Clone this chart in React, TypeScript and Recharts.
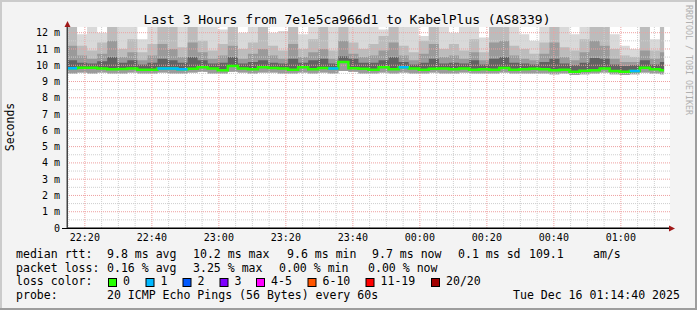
import React from 'react';
import { ComposedChart, Area, Line, XAxis, YAxis, CartesianGrid, ReferenceLine } from 'recharts';

// x values are minutes after 22:00; first sample 22:14:40, one column every 3 min
const START = 14 + 40 / 60;
const STEP = 3;
const LAST = 192.9;

const median = [
  9.82, 9.85, 9.85, 9.8, 9.75, 9.77, 9.8, 9.73, 9.72, 9.8,
  9.8, 9.75, 9.78, 9.88, 9.8, 9.7, 9.95, 9.8, 9.75, 9.87,
  9.83, 9.8, 9.73, 9.87, 9.75, 9.83, 9.8, 10.2, 9.82, 9.78,
  9.73, 9.88, 9.75, 9.88, 9.8, 9.73, 9.78, 9.8, 9.75, 9.8,
  9.72, 9.75, 9.73, 9.83, 9.73, 9.75, 9.78, 9.75, 9.69, 9.73,
  9.6, 9.66, 9.7, 9.8, 9.64, 9.6, 9.64, 9.85, 9.75, 9.7,
];
const low = [
  9.5, 9.55, 9.5, 9.55, 9.5, 9.5, 9.55, 9.5, 9.5, 9.55,
  9.5, 9.5, 9.55, 9.6, 9.5, 9.5, 9.6, 9.55, 9.5, 9.55,
  9.55, 9.5, 9.5, 9.55, 9.5, 9.55, 9.5, 9.65, 9.6, 9.5,
  9.5, 9.55, 9.5, 9.55, 9.5, 9.5, 9.55, 9.5, 9.5, 9.55,
  9.5, 9.5, 9.5, 9.55, 9.5, 9.5, 9.5, 9.5, 9.45, 9.5,
  9.4, 9.45, 9.5, 9.55, 9.45, 9.4, 9.45, 9.55, 9.5, 9.45,
];
const dark = [
  10.3, 10.15, 10.1, 10.25, 10.5, 10.15, 10.3, 10.05, 10.15, 10.4,
  10.3, 10.15, 10.5, 10.3, 10.1, 10.15, 10.5, 10.1, 10.2, 10.3,
  10.15, 10.1, 10.4, 10.15, 10.3, 10.4, 10.1, 10.55, 10.4, 10.15,
  10.15, 10.3, 10.5, 10.2, 10.05, 10.15, 10.4, 10.1, 10.15, 10.1,
  10.3, 10.05, 10.4, 10.5, 10.15, 10.1, 10.05, 10.2, 10.4, 10.1,
  10.0, 10.15, 10.45, 10.4, 10.05, 9.95, 10.0, 10.3, 10.05, 10.2,
];
const mid = [
  11.2, 10.6, 10.4, 10.7, 11.5, 10.5, 10.8, 10.3, 10.6, 11.3,
  11.0, 10.5, 11.4, 10.8, 10.4, 10.6, 11.2, 10.4, 10.7, 11.0,
  10.6, 10.4, 11.3, 10.5, 10.8, 11.0, 10.4, 11.5, 10.7, 10.5,
  10.6, 10.9, 11.4, 10.6, 10.3, 10.7, 11.3, 10.5, 10.6, 10.4,
  10.8, 10.3, 11.4, 11.5, 10.6, 10.4, 10.3, 10.7, 11.4, 10.5,
  10.3, 10.8, 11.5, 11.2, 10.4, 10.2, 10.2, 10.9, 10.4, 10.8,
];
const light = [
  12.35, 11.2, 10.9, 11.4, 12.35, 11.0, 11.6, 10.8, 11.3, 12.35,
  12.35, 11.1, 12.35, 11.5, 10.9, 11.3, 12.35, 11.0, 11.4, 12.35,
  11.2, 10.9, 12.35, 11.0, 11.6, 12.35, 10.9, 12.35, 11.4, 11.0,
  11.3, 11.8, 12.35, 11.2, 10.8, 11.5, 12.35, 11.0, 11.3, 10.9,
  11.6, 10.8, 12.35, 12.35, 11.2, 11.0, 10.7, 11.4, 12.35, 11.1,
  10.9, 11.6, 12.35, 12.35, 11.0, 10.6, 10.5, 12.35, 10.9, 12.35,
];
const top = [
  12.35, 11.9, 12.35, 12.0, 12.35, 12.35, 12.35, 11.6, 12.35, 12.35,
  12.35, 12.35, 12.35, 12.35, 12.35, 12.2, 12.35, 12.0, 12.35, 12.35,
  12.0, 12.1, 12.35, 11.9, 12.35, 12.1, 12.35, 12.35, 12.35, 12.35,
  12.35, 12.2, 12.35, 12.35, 12.35, 11.8, 12.35, 12.35, 12.0, 12.35,
  12.35, 11.7, 12.35, 12.35, 12.35, 11.9, 11.5, 12.35, 12.35, 12.35,
  11.9, 12.35, 12.35, 12.35, 11.9, 11.2, 11.0, 12.35, 11.6, 12.35,
];
const loss = [
  1, 0, 0, 0, 0, 0, 0, 0, 0, 1,
  0, 1, 0, 0, 0, 0, 0, 0, 0, 0,
  0, 0, 0, 0, 0, 0, 1, 0, 0, 0,
  0, 0, 0, 1, 0, 0, 0, 0, 0, 0,
  0, 0, 0, 0, 0, 0, 0, 0, 0, 0,
  0, 0, 0, 0, 0, 0, 1, 0, 0, 0,
];

const xMajor = [20, 40, 60, 80, 100, 120, 140, 160, 180];
const xMinor = [15, 25, 30, 35, 45, 50, 55, 65, 70, 75, 85, 90, 95, 105, 110, 115, 125, 130, 135, 145, 150, 155, 165, 170, 175, 185, 190];
const yMajor = [0, 1, 2, 3, 4, 5, 6, 7, 8, 9, 10, 11, 12];
const yMinor = [0.5, 1.5, 2.5, 3.5, 4.5, 5.5, 6.5, 7.5, 8.5, 9.5, 10.5, 11.5];

const rttStats = ['9.8 ms avg', '10.2 ms max', '9.6 ms min', '9.7 ms now', '0.1 ms sd', '109.1', 'am/s'];
const lossStats = ['0.16 % avg', '3.25 % max', '0.00 % min', '0.00 % now'];
const lossLabels = ['0', '1', '2', '3', '4-5', '6-10', '11-19', '20/20'];
const lossColors = ['#26ff00', '#00b8ff', '#0059ff', '#7e00ff', '#ff00ff', '#ff5500', '#ff0000', '#a10000'];

const MONO = '"DejaVu Sans Mono", monospace';

const rows: any[] = median.map((m, i) => ({
  t: START + i * STEP,
  s1: [low[i], top[i]],
  s2: [low[i], light[i]],
  s3: [low[i], mid[i]],
  s4: [m, dark[i]],
  med: m,
  lossMed: loss[i] > 0 ? m : i > 0 && loss[i - 1] > 0 ? median[i - 1] : null,
}));
const lastRow = rows[rows.length - 1];
rows.push({ ...lastRow, t: LAST, lossMed: loss[loss.length - 1] > 0 ? lastRow.med : null });

const fmtTime = (m: number) => {
  const total = (22 * 60 + m) % 1440;
  const h = Math.floor(total / 60);
  const mm = total % 60;
  return `${String(h).padStart(2, '0')}:${String(mm).padStart(2, '0')}`;
};

export default function App() {
  const rttX = [107, 193, 287, 372, 458, 529, 593];
  const lossX = [107, 193, 279, 368];
  const boxX = [108, 145.5, 182.5, 219.5, 256, 307.5, 365.5, 431];
  return (
    <div style={{ position: 'absolute', left: 0, top: 0, width: 697, height: 310, background: '#f3f3f3', fontFamily: MONO }}>
      <ComposedChart width={697} height={310} data={rows} margin={{ top: 27, right: 27, bottom: 62, left: 0 }}>
        <CartesianGrid fill="#ffffff" stroke="none" horizontal={false} vertical={false} />
        <XAxis
          dataKey="t"
          type="number"
          domain={[START, START + 180]}
          ticks={xMajor}
          tickFormatter={fmtTime}
          allowDataOverflow
          height={20}
          tickLine={false}
          tickSize={0}
          tickMargin={6}
          axisLine={{ stroke: '#000' }}
          tick={{ fill: '#000', fontSize: 10, fontFamily: MONO }}
        />
        <YAxis
          type="number"
          domain={[0, 12.35]}
          ticks={yMajor}
          tickFormatter={(v: number) => (v === 0 ? '0' : `${v} m`)}
          allowDataOverflow
          width={67}
          tickLine={false}
          tickSize={0}
          tickMargin={7}
          axisLine={{ stroke: '#444' }}
          tick={{ fill: '#000', fontSize: 10, fontFamily: MONO }}
        />
        <Area type="stepAfter" dataKey="s1" stroke="none" fill="#d9d9d9" fillOpacity={1} isAnimationActive={false} />
        <Area type="stepAfter" dataKey="s2" stroke="none" fill="#bcbcbc" fillOpacity={1} isAnimationActive={false} />
        <Area type="stepAfter" dataKey="s3" stroke="none" fill="#9a9a9a" fillOpacity={1} isAnimationActive={false} />
        <Area type="stepAfter" dataKey="s4" stroke="none" fill="#626262" fillOpacity={1} isAnimationActive={false} />
        {xMinor.map((v) => (
          <ReferenceLine key={`xm${v}`} x={v} stroke="#cfcfcf" strokeDasharray="1 1" />
        ))}
        {yMinor.map((v) => (
          <ReferenceLine key={`ym${v}`} y={v} stroke="#cfcfcf" strokeDasharray="1 1" />
        ))}
        {xMajor.map((v) => (
          <ReferenceLine key={`xM${v}`} x={v} stroke="#eea0a0" strokeDasharray="1 1" />
        ))}
        {yMajor.slice(1).map((v) => (
          <ReferenceLine key={`yM${v}`} y={v} stroke="#eea0a0" strokeDasharray="1 1" />
        ))}
        <Line type="stepAfter" dataKey="med" stroke="#26ff00" strokeWidth={2.5} dot={false} isAnimationActive={false} />
        <Line type="stepAfter" dataKey="lossMed" stroke="#00b8ff" strokeWidth={2.5} dot={false} connectNulls={false} isAnimationActive={false} />
      </ComposedChart>

      <svg width={697} height={310} style={{ position: 'absolute', left: 0, top: 0, pointerEvents: 'none' }}>
        {/* frame */}
        <rect x={0} y={0} width={697} height={2} fill="#cbcbcb" />
        <rect x={0} y={0} width={2} height={310} fill="#cbcbcb" />
        <rect x={0} y={308} width={697} height={2} fill="#9d9d9d" />
        <rect x={695} y={0} width={2} height={310} fill="#9d9d9d" />

        {/* axis extensions and arrows */}
        <line x1={62} y1={228.5} x2={669} y2={228.5} stroke="#000" />
        <line x1={67.5} y1={228} x2={67.5} y2={24} stroke="#444" />
        <polygon points="64.5,27 70.5,27 67.5,21" fill="#a01818" />
        <polygon points="669,225.5 669,231.5 675,228.5" fill="#a01818" />

        <text x={347} y={24} textAnchor="middle" fontSize={13} fontFamily={MONO} fill="#000">
          Last 3 Hours from 7e1e5ca966d1 to KabelPlus (AS8339)
        </text>
        <text x={14} y={127} textAnchor="middle" fontSize={11.5} fontFamily={MONO} fill="#000" transform="rotate(-90 14 127)">
          Seconds
        </text>
        <text x={686} y={5} fontSize={8.3} fontFamily={MONO} fill="#b0b0b0" transform="rotate(90 686 5)">
          RRDTOOL / TOBI OETIKER
        </text>

        <g fontFamily={MONO} fontSize={11.55} fill="#000" style={{ whiteSpace: 'pre' }}>
          <text x={16} y={258}>median rtt:</text>
          {rttStats.map((s, i) => (
            <text key={s} x={rttX[i]} y={258}>{s}</text>
          ))}
          <text x={16} y={271.7}>packet loss:</text>
          {lossStats.map((s, i) => (
            <text key={s + i} x={lossX[i]} y={271.7}>{s}</text>
          ))}
          <text x={16} y={285.4}>loss color:</text>
          {lossLabels.map((s, i) => (
            <g key={s}>
              <rect x={boxX[i] + 0.5} y={278.5} width={8} height={8} fill={lossColors[i]} stroke="#000" />
              <text x={boxX[i] + 15} y={285.4}>{s}</text>
            </g>
          ))}
          <text x={16} y={299}>probe:</text>
          <text x={107} y={299}>20 ICMP Echo Pings (56 Bytes) every 60s</text>
          <text x={513} y={299}>Tue Dec 16 01:14:40 2025</text>
        </g>
      </svg>
    </div>
  );
}
